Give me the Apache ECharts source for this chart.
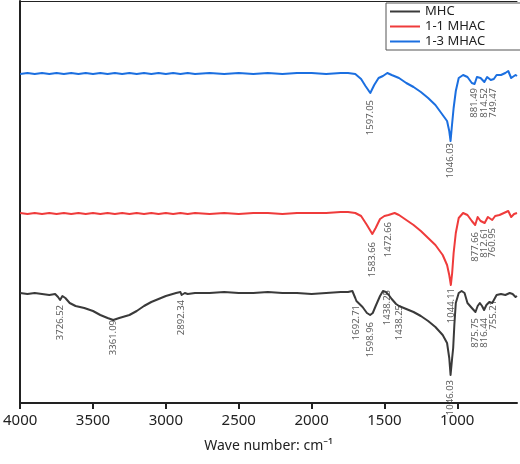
<!DOCTYPE html><html><head><meta charset="utf-8">
<script src="https://cdn.jsdelivr.net/npm/echarts@6/dist/echarts.min.js"></script>
<style>html,body{margin:0;padding:0;background:#fff}#c{width:520px;height:464px}</style></head><body><div id="c"></div>
<script>
const tickLabels=[4000,3500,3000,2500,2000,1500,1000];
const mhc=[[4000,110],[3950,109],[3900,110],[3850,109],[3800,108],[3760,109],[3740,106],[3726,103],[3710,107],[3690,105],[3660,100],[3620,97],[3560,95],[3500,92],[3450,88],[3400,85],[3361,83],[3320,85],[3250,88],[3200,92],[3150,97],[3100,101],[3050,104],[3000,107],[2930,110],[2900,111],[2892,108],[2870,110],[2850,109],[2800,110],[2700,110],[2600,111],[2500,110],[2400,110],[2300,111],[2200,110],[2100,110],[2000,109],[1900,110],[1800,111],[1750,111],[1720,112],[1700,105],[1692,102],[1680,103],[1650,96],[1620,90],[1598,88],[1580,90],[1560,97],[1530,107],[1510,112],[1490,111],[1470,108],[1450,104],[1438,103],[1420,99],[1400,97],[1350,94],[1300,91],[1250,87],[1200,82],[1150,76],[1100,68],[1070,60],[1055,45],[1046,28],[1035,45],[1028,55],[1020,78],[1010,100],[990,110],[970,112],[950,110],[930,100],[900,95],[875,91],[860,97],[845,100],[830,97],[816,93],[800,98],[780,101],[760,100],[745,104],[730,108],[700,109],[670,108],[640,110],[620,109],[600,106],[590,107]];
const mhac11=[[4000,190],[3950,189],[3900,190],[3850,189],[3800,190],[3750,189],[3700,190],[3650,189],[3600,190],[3550,189],[3500,190],[3450,189],[3400,190],[3350,189],[3300,190],[3250,189],[3200,190],[3150,189],[3100,190],[3050,189],[3000,190],[2950,189],[2900,190],[2850,189],[2800,190],[2700,189],[2600,190],[2500,189],[2400,190],[2300,190],[2200,189],[2100,190],[2000,190],[1900,190],[1800,191],[1750,191],[1700,190],[1660,187],[1620,178],[1583,169],[1560,175],[1530,184],[1500,187],[1472,188],[1430,190],[1400,188],[1350,183],[1300,178],[1250,172],[1200,165],[1150,158],[1100,148],[1070,138],[1055,128],[1044,118],[1035,130],[1025,150],[1010,170],[990,185],[960,190],[930,188],[900,182],[877,178],[860,186],[840,182],[812,180],[790,186],[760,183],[740,187],[710,188],[680,190],[650,192],[630,186],[610,189],[590,190]];
const mhac13=[[4000,329],[3950,330],[3900,329],[3850,330],[3800,329],[3750,330],[3700,329],[3650,330],[3600,329],[3550,330],[3500,329],[3450,330],[3400,329],[3350,330],[3300,329],[3250,330],[3200,329],[3150,330],[3100,329],[3050,330],[3000,329],[2950,330],[2900,329],[2850,330],[2800,329],[2700,330],[2600,329],[2500,330],[2400,329],[2300,330],[2200,329],[2100,330],[2000,330],[1900,329],[1800,330],[1750,330],[1700,329],[1660,324],[1630,317],[1597,310],[1570,318],[1540,325],[1510,327],[1480,330],[1450,328],[1400,325],[1350,320],[1300,316],[1250,311],[1200,305],[1150,298],[1100,288],[1070,282],[1055,272],[1046,262],[1038,275],[1025,295],[1010,312],[990,325],[960,328],[930,326],[900,320],[881,319],[865,326],[840,325],[814,321],[795,326],[770,323],[749,324],[730,328],[700,328],[670,330],[650,332],[630,325],[600,328],[590,327]];
const labels13=[[1597.05,303,'1597.05'],[1046.03,260,'1046.03'],[881.49,315,'881.49'],[814.52,315,'814.52'],[749.47,315,'749.47']];
const labels11=[[1583.66,161,'1583.66'],[1472.66,181,'1472.66'],[1044.11,115,'1044.11'],[877.66,171,'877.66'],[812.61,175,'812.61'],[760.95,175,'760.95']];
const labelsMHC=[[3726.52,98,'3726.52'],[3361.09,83,'3361.09'],[2892.34,103,'2892.34'],[1692.71,98,'1692.71'],[1598.96,81,'1598.96'],[1480,113,'1438.25'],[1400,98,'1438.25'],[1046.03,23,'1046.03'],[875.75,85,'875.75'],[816.44,85,'816.44'],[755.21,103,'755.21']];
const colors={mhc:'#3a3a3a',m11:'#ef3b3b',m13:'#1b6fe0'};
function lbl(arr){return {type:'scatter',data:arr.map(a=>({value:[a[0],a[1]],name:a[2]})),symbolSize:0,silent:true,z:5,
 label:{show:true,position:[0,0],rotate:90,align:'right',verticalAlign:'middle',fontSize:9.5,color:'#333',fontFamily:'Noto Sans',formatter:p=>p.name}};}
const ln=(n,d,c)=>({type:'line',name:n,data:d,showSymbol:false,smooth:false,lineStyle:{width:2,color:c,join:'round'},itemStyle:{color:c}});
const chart=echarts.init(document.getElementById('c'));
chart.setOption({animation:false,
 grid:{left:20,right:3,top:1,bottom:61},
 legend:{orient:'vertical',left:386,top:3,itemGap:2,itemWidth:30,itemHeight:2,padding:[2,44,2,4],borderColor:'#555',borderWidth:1,
  textStyle:{fontSize:13,color:'#222',fontFamily:'Noto Sans'},icon:'rect',data:['MHC','1-1 MHAC','1-3 MHAC']},
 xAxis:[{type:'value',inverse:true,min:590,max:4000,
  name:'Wave number: cm\u207B\u00B9',nameLocation:'middle',nameGap:36,nameTextStyle:{fontSize:14,color:'#222',fontFamily:'Noto Sans'},
  axisLine:{lineStyle:{color:'#222',width:2}},splitLine:{show:false},
  axisTick:{show:true,customValues:tickLabels,length:6,inside:false,lineStyle:{color:'#222',width:2}},
  axisLabel:{customValues:tickLabels,fontSize:15,color:'#222',fontFamily:'Noto Sans',margin:10,formatter:v=>String(v)}},
  {type:'value',position:'top',inverse:true,min:590,max:4000,axisLine:{show:true,lineStyle:{color:'#222',width:1}},axisTick:{show:false},axisLabel:{show:false},splitLine:{show:false}}],
 yAxis:{type:'value',min:0,max:402,axisLine:{show:true,lineStyle:{color:'#222',width:2}},axisTick:{show:false},axisLabel:{show:false},splitLine:{show:false}},
 series:[ln('MHC',mhc,colors.mhc),ln('1-1 MHAC',mhac11,colors.m11),ln('1-3 MHAC',mhac13,colors.m13),lbl(labels13),lbl(labels11),lbl(labelsMHC)]
});
</script></body></html>
